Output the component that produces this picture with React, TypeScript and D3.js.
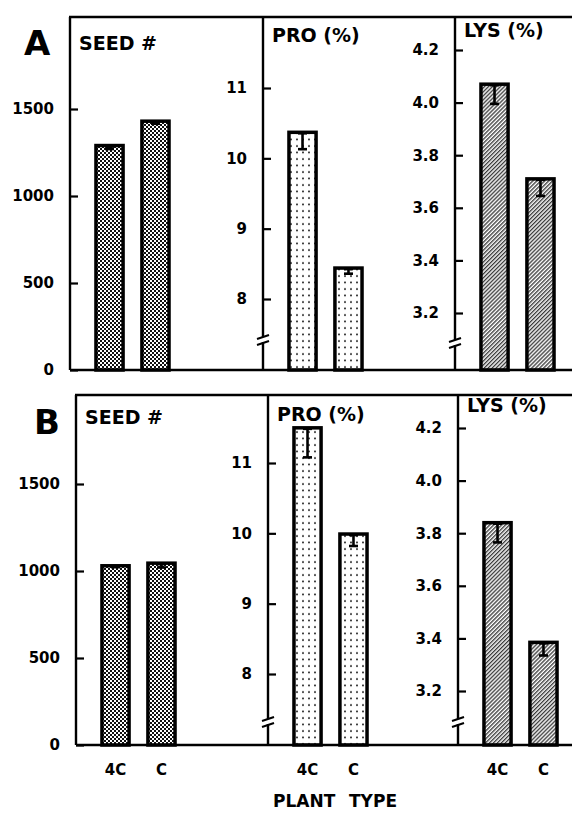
import React, { useEffect, useRef } from "react";
import * as d3 from "d3";

const plantTypes = ["4C", "C"];

// panel A
const seedA = [1290, 1430];
const seedErrA = [20, 15];
const proA = [10.37, 8.44];
const proErrA = [0.24, 0.08];
const lysA = [4.07, 3.71];
const lysErrA = [0.075, 0.065];

// panel B
const seedB = [1030, 1045];
const seedErrB = [8, 25];
const proB = [11.5, 9.99];
const proErrB = [0.42, 0.17];
const lysB = [3.84, 3.385];
const lysErrB = [0.075, 0.05];

const seedTicks = [0, 500, 1000, 1500];
const proTicks = [8, 9, 10, 11];
const lysTicks = [3.2, 3.4, 3.6, 3.8, 4.0, 4.2];

const titles = ["SEED #", "PRO (%)", "LYS (%)"];
const panelLetters = ["A", "B"];
const xTitle = ["PLANT", "TYPE"];

const FONT = "'DejaVu Sans', Arial, sans-serif";

function App() {
    const ref = useRef(null);

    useEffect(() => {
        const width = 572;
        const height = 814;
        const svg = d3.select(ref.current);
        svg.selectAll("*").remove();
        svg.attr("width", width).attr("height", height);

        svg.append("rect").attr("width", width).attr("height", height).attr("fill", "#fff");

        // fill patterns: checker, dots, hatching
        const defs = svg.append("defs");
        const pSeed = defs.append("pattern").attr("id", "pat-0")
            .attr("patternUnits", "userSpaceOnUse").attr("width", 4).attr("height", 4);
        pSeed.append("rect").attr("width", 4).attr("height", 4).attr("fill", "#fff");
        pSeed.append("rect").attr("width", 2).attr("height", 2).attr("fill", "#111");
        pSeed.append("rect").attr("x", 2).attr("y", 2).attr("width", 2).attr("height", 2).attr("fill", "#111");

        const pPro = defs.append("pattern").attr("id", "pat-1")
            .attr("patternUnits", "userSpaceOnUse").attr("width", 6).attr("height", 6.5);
        pPro.append("rect").attr("width", 6).attr("height", 6.5).attr("fill", "#fff");
        pPro.append("circle").attr("cx", 3).attr("cy", 3).attr("r", 0.95).attr("fill", "#000");

        const pLys = defs.append("pattern").attr("id", "pat-2")
            .attr("patternUnits", "userSpaceOnUse").attr("width", 2.8).attr("height", 2.8)
            .attr("patternTransform", "rotate(45)");
        pLys.append("rect").attr("width", 2.8).attr("height", 2.8).attr("fill", "#fff");
        pLys.append("line").attr("x1", 0.7).attr("y1", 0).attr("x2", 0.7).attr("y2", 2.8)
            .attr("stroke", "#222").attr("stroke-width", 1.2);

        const rows = [
            {
                letter: panelLetters[0], top: 17, base: 370, axes: [70, 263, 455],
                ranges: [[370, 109], [299, 88], [313, 50]], breakY: [0, 338, 341],
                titleY: [50, 42, 37], letterXY: [24, 55],
                values: [seedA, proA, lysA], errors: [seedErrA, proErrA, lysErrA],
            },
            {
                letter: panelLetters[1], top: 395, base: 745, axes: [76, 268, 458],
                ranges: [[745, 484], [674, 463], [691, 428]], breakY: [0, 720, 720],
                titleY: [424, 421, 412], letterXY: [34, 434],
                values: [seedB, proB, lysB], errors: [seedErrB, proErrB, lysErrB],
            },
        ];
        const domains = [[0, 1500], [8, 11], [3.2, 4.2]];
        const ticks = [seedTicks, proTicks, lysTicks];
        const formats = [d3.format("d"), d3.format("d"), d3.format(".1f")];

        rows.forEach((row, ri) => {
            const g = svg.append("g");

            g.append("line")
                .attr("x1", row.axes[0] - 1).attr("x2", width)
                .attr("y1", row.top).attr("y2", row.top)
                .attr("stroke", "#000").attr("stroke-width", 2.5);

            g.append("text")
                .attr("x", row.letterXY[0]).attr("y", row.letterXY[1])
                .attr("font-family", FONT).attr("font-weight", "bold")
                .attr("font-size", 34)
                .text(row.letter);

            for (let i = 0; i < 3; i++) {
                const ax = row.axes[i];
                const y = d3.scaleLinear(domains[i], row.ranges[i]);
                const x = d3.scaleBand()
                    .domain(plantTypes)
                    .range([ax, ax + 125])
                    .paddingInner(0.41)
                    .paddingOuter(0.565);

                const yAxis = g.append("g")
                    .attr("transform", `translate(${ax},0)`)
                    .call(d3.axisLeft(y)
                        .tickValues(ticks[i])
                        .tickSizeInner(-8)
                        .tickSizeOuter(0)
                        .tickPadding(16)
                        .tickFormat(formats[i]));
                yAxis.select("path.domain").remove();
                yAxis.attr("font-family", FONT).attr("font-size", 15).attr("font-weight", "bold");
                yAxis.selectAll(".tick line").attr("stroke-width", 2.2);

                // axis line, full height of the frame
                g.append("line")
                    .attr("x1", ax).attr("x2", ax)
                    .attr("y1", row.top).attr("y2", row.base)
                    .attr("stroke", "#000").attr("stroke-width", 2.4);

                if (i > 0) {
                    const b = row.breakY[i];
                    g.append("rect")
                        .attr("x", ax - 2).attr("y", b - 1)
                        .attr("width", 4).attr("height", 5)
                        .attr("fill", "#fff");
                    [0, 6].forEach(o => {
                        g.append("line")
                            .attr("x1", ax - 6).attr("y1", b + o + 1)
                            .attr("x2", ax + 6).attr("y2", b + o - 3)
                            .attr("stroke", "#000").attr("stroke-width", 2);
                    });
                }

                g.selectAll(null)
                    .data(row.values[i])
                    .join("rect")
                    .attr("x", (d, k) => x(plantTypes[k]))
                    .attr("y", d => y(d))
                    .attr("width", x.bandwidth())
                    .attr("height", d => row.base - y(d))
                    .attr("fill", `url(#pat-${i})`)
                    .attr("stroke", "#000")
                    .attr("stroke-width", 3.5);

                row.values[i].forEach((v, k) => {
                    const cx = x(plantTypes[k]) + x.bandwidth() / 2;
                    const y0 = y(v);
                    const y1 = y(v - row.errors[i][k]);
                    const eb = g.append("g").attr("stroke", "#000").attr("stroke-width", 2.6);
                    eb.append("line").attr("x1", cx).attr("x2", cx).attr("y1", y0).attr("y2", y1);
                    eb.append("line").attr("x1", cx - 4.5).attr("x2", cx + 4.5).attr("y1", y0 + 1).attr("y2", y0 + 1);
                    eb.append("line").attr("x1", cx - 4.5).attr("x2", cx + 4.5).attr("y1", y1).attr("y2", y1);
                });

                g.append("text")
                    .attr("x", ax + 9).attr("y", row.titleY[i])
                    .attr("font-family", FONT).attr("font-weight", "bold")
                    .attr("font-size", 19)
                    .text(titles[i]);

                if (ri === 1) {
                    g.selectAll(null)
                        .data(plantTypes)
                        .join("text")
                        .attr("x", d => x(d) + x.bandwidth() / 2)
                        .attr("y", 775)
                        .attr("text-anchor", "middle")
                        .attr("font-family", FONT).attr("font-weight", "bold")
                        .attr("font-size", 15)
                        .text(d => d);
                }
            }

            g.append("line")
                .attr("x1", row.axes[0]).attr("x2", width)
                .attr("y1", row.base).attr("y2", row.base)
                .attr("stroke", "#000").attr("stroke-width", 2.5);
        });

        svg.append("text")
            .attr("x", 273).attr("y", 807)
            .attr("font-family", FONT).attr("font-weight", "bold").attr("font-size", 17)
            .text(xTitle[0]);
        svg.append("text")
            .attr("x", 397).attr("y", 807)
            .attr("text-anchor", "end")
            .attr("font-family", FONT).attr("font-weight", "bold").attr("font-size", 17)
            .text(xTitle[1]);
    }, []);

    return (
        <svg ref={ref} style={{ position: "absolute", left: 0, top: 0, display: "block" }} />
    );
}

export default App;
